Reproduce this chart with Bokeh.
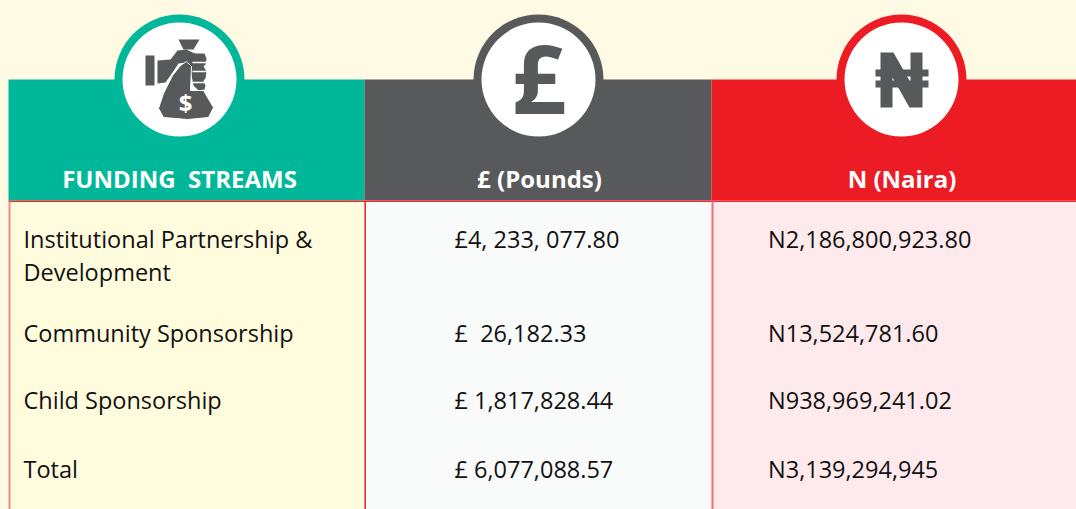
from bokeh.plotting import figure
from bokeh.embed import file_html
from bokeh.resources import INLINE
from bokeh.core.properties import value

W, H = 1076, 509

# ---- table content -------------------------------------------------------
headers = ["FUNDING\u00a0\u00a0STREAMS", "£ (Pounds)", "N (Naira)"]
streams = [["Institutional Partnership &", "Development"], ["Community Sponsorship"], ["Child Sponsorship"], ["Total"]]
pounds = ["£4, 233, 077.80", "£\u00a0\u00a026,182.33", "£ 1,817,828.44", "£ 6,077,088.57"]
naira = ["N2,186,800,923.80", "N13,524,781.60", "N938,969,241.02", "N3,139,294,945"]

# ---- layout --------------------------------------------------------------
col_edges = [8, 364, 711, 1076]
head_top, head_bottom = 79, 200
row_y = [238, 332, 399, 468]
second_line_dy = 33
colours = ["#00b899", "#58595b", "#ed1c24"]
panels = ["#fffcde", "#f9fbfa", "#feeaec"]
header_cx = [179, 539, 901.5]
circle_cx = [179, 538, 901]
circle_cy = 79
icon_grey = "#58595b"
font = value("Open Sans")

p = figure(width=W, height=H, x_range=(0, W), y_range=(H, 0), toolbar_location=None,
           output_backend="svg", min_border=0, outline_line_color=None,
           background_fill_color="#fffae4", border_fill_color="#fffae4")
p.axis.visible = False
p.grid.visible = False

for i in range(3):
    l, r = col_edges[i], col_edges[i + 1]
    p.quad(left=[l], right=[r], top=[head_bottom], bottom=[H], fill_color=panels[i], line_color=None)
    p.quad(left=[l], right=[r], top=[head_top], bottom=[head_bottom], fill_color=colours[i], line_color=None)
    p.ellipse(x=[circle_cx[i]], y=[circle_cy], width=130, height=130, fill_color=colours[i], line_color=None)
    p.ellipse(x=[circle_cx[i]], y=[circle_cy], width=114, height=114, fill_color="#ffffff", line_color=None)
    p.text(x=[header_cx[i]], y=[178], text=[headers[i]], text_font=font, text_font_style="bold",
           text_font_size="24px", text_color="#ffffff", text_align="center", text_baseline="middle")

# cell rules
p.segment(x0=[8], y0=[200.7], x1=[1076], y1=[200.7], line_color="#ed2630", line_width=1.5)
p.segment(x0=[9], y0=[201], x1=[9], y1=[H], line_color="#f48a8a", line_width=2)
p.segment(x0=[364.7], y0=[201], x1=[364.7], y1=[H], line_color="#ed1c24", line_width=1.5)
p.segment(x0=[712], y0=[201], x1=[712], y1=[H], line_color="#ee7078", line_width=2)

# body text
body_size = "23.5px"
for i, lines in enumerate(streams):
    for j, line in enumerate(lines):
        p.text(x=[23], y=[row_y[i] + j * second_line_dy], text=[line], text_font=font, text_font_size=body_size,
               text_color="#111111", text_baseline="middle")
    p.text(x=[454], y=[row_y[i]], text=[pounds[i]], text_font=font, text_font_size=body_size,
           text_color="#111111", text_baseline="middle")
    p.text(x=[767.5], y=[row_y[i]], text=[naira[i]], text_font=font, text_font_size=body_size,
           text_color="#111111", text_baseline="middle")

# naira icon: N and two bars
naira_x = [880, 893, 910, 910, 922, 922, 909, 892, 892, 880]
naira_y = [52, 52, 82, 52, 52, 107, 107, 77, 107, 107]
p.patch(naira_x, naira_y, fill_color=icon_grey, line_color=None)
p.quad(left=[875, 875], right=[928, 928], top=[69, 80], bottom=[76, 87], fill_color=icon_grey, line_color=None)

# money bag icon: outline points
cuff_x = [145, 154, 154, 145]
cuff_y = [55, 55, 85, 85]
hand_x = [157, 170, 177, 186, 192, 195, 204, 206, 205, 203, 206, 205, 203, 205, 204, 198, 193, 190, 186, 178, 172, 165, 157]
hand_y = [60, 59, 50, 49, 52, 53, 53, 58, 64, 66, 71, 78, 80, 85, 89, 90, 85, 70, 62, 63, 72, 82, 83]
bag_x = [191, 190, 203, 213, 208, 187, 163, 158, 163, 172, 180, 186]
bag_y = [66, 90, 90, 107, 117, 119, 117, 108, 93, 75, 65, 61]
knot_x = [178, 199, 193, 183]
knot_y = [39, 39, 49, 49]
finger_gap_y = [62, 71, 82]
p.patch(cuff_x, cuff_y, fill_color=icon_grey, line_color=None)
p.patch(hand_x, hand_y, fill_color=icon_grey, line_color=None)
p.patch(bag_x, bag_y, fill_color=icon_grey, line_color="#ffffff", line_width=1)
p.patch(knot_x, knot_y, fill_color=icon_grey, line_color=None)
p.segment(x0=[192] * 3, y0=finger_gap_y, x1=[206] * 3, y1=finger_gap_y, line_color="#ffffff", line_width=1.5)
p.text(x=[185], y=[102], text=["$"], text_font=font, text_font_style="bold", text_font_size="24px",
       text_color="#ffffff", text_align="center", text_baseline="middle")

# pound icon
p.text(x=[538.5], y=[76], text=["£"], text_font=font, text_font_style="bold", text_font_size="95px",
       text_color=icon_grey, text_align="center", text_baseline="middle")

STYLE = "<style>html,body{margin:0 !important;padding:0;background:#fffae4;overflow:hidden}</style>"
open("out.html", "w").write(file_html(p, INLINE).replace("<head>", "<head>" + STYLE, 1))
